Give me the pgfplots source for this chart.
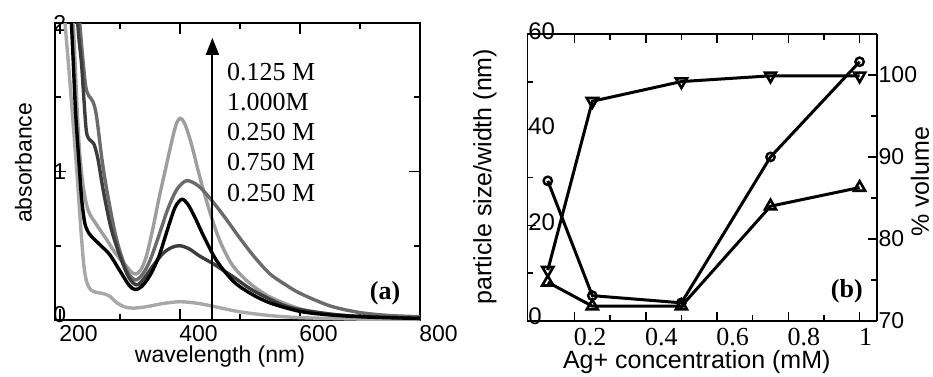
\documentclass[border=0pt]{standalone}
\usepackage{pgfplots}
\pgfplotsset{compat=1.18}
\usepackage{fontspec}
\setmainfont{Liberation Sans}
\newfontfamily\seriffont{Liberation Serif}
\usetikzlibrary{arrows.meta}

\definecolor{lgA}{gray}{0.66}
\definecolor{lgB}{gray}{0.62}
\definecolor{mgC}{gray}{0.42}
\definecolor{dgE}{gray}{0.24}

\begin{document}
\begin{tikzpicture}
\useasboundingbox (0,0) rectangle (466.5pt,188pt);
% ---------------- panel (a) ----------------
\begin{axis}[
  at={(27.5pt,28pt)}, anchor=south west,
  scale only axis, width=182.5pt, height=148.5pt,
  xmin=191.7, xmax=800, ymin=0, ymax=2,
  xtick={200,400,600,800}, minor xtick={300,500,700},
  xticklabels={200,400,600,800},
  ytick={0,1,2}, minor ytick={0.5,1.5},
  yticklabels={\raisebox{-1.1pt}[0pt][0pt]{0},1,2},
  tick align=inside, major tick length=5.3pt, minor tick length=2.8pt,
  axis line style={line width=0.8pt},
  every tick/.style={line width=0.8pt, black},
  xticklabel style={anchor=north west, inner sep=0pt, yshift=-2.6pt, xshift=-0.5pt, font=\fontsize{11.5}{12}\selectfont},
  yticklabel style={anchor=west, inner sep=0pt, xshift=-1pt, font=\fontsize{11.5}{12}\selectfont},
  xlabel={wavelength (nm)}, ylabel={absorbance},
  xlabel style={at={(axis description cs:0.452,-0.124)}, anchor=center, font=\fontsize{11.5}{12}\selectfont},
  ylabel style={at={(axis description cs:-0.0868,0.529)}, anchor=center, font=\fontsize{11.5}{12}\selectfont},
  every axis plot/.append style={line width=1.7pt, smooth, tension=0.5, no marks},
]
% A: lowest light gray
\addplot[lgA] coordinates {(204,2.25) (208,2.02) (215,1.68) (222,1.32) (229,0.95) (235,0.6) (240,0.36) (245,0.25) (252,0.2) (262,0.185) (272,0.178) (283,0.16) (295,0.115) (308,0.088) (322,0.08) (345,0.09) (370,0.11) (400,0.123) (430,0.112) (460,0.088) (500,0.055) (550,0.03) (600,0.016) (700,0.006) (800,0.002)};
% B: tall light gray
\addplot[lgB] coordinates {(217,2.5) (221,2.1) (225,1.75) (229,1.38) (233,1.12) (238,0.92) (244,0.78) (250,0.71) (258,0.66) (267,0.605) (278,0.54) (289,0.47) (300,0.41) (311,0.36) (320,0.32) (327,0.31) (335,0.34) (344,0.43) (355,0.62) (365,0.82) (375,1.0) (385,1.18) (393,1.31) (400,1.358) (407,1.33) (415,1.24) (422,1.14) (430,1.01) (439,0.875) (455,0.66) (470,0.5) (489,0.36) (517,0.245) (550,0.155) (600,0.075) (650,0.04) (700,0.022) (800,0.008)};
% C: broad mid gray
\addplot[mgC] coordinates {(226,2.5) (230,2.22) (233,2.0) (238,1.76) (243,1.57) (248,1.51) (255,1.47) (261,1.37) (270,1.08) (278,0.875) (290,0.62) (300,0.46) (313,0.32) (326,0.27) (338,0.31) (350,0.40) (365,0.57) (380,0.75) (395,0.88) (411,0.938) (430,0.905) (450,0.82) (475,0.69) (500,0.55) (525,0.42) (550,0.31) (575,0.24) (600,0.18) (650,0.095) (700,0.05) (750,0.03) (800,0.022)};
% E: dark gray low peak
\addplot[dgE] coordinates {(222,2.5) (227,2.15) (231,1.92) (236,1.72) (240,1.48) (244,1.27) (249,1.215) (256,1.19) (263,1.09) (272,0.875) (285,0.62) (300,0.43) (313,0.3) (323,0.245) (331,0.24) (342,0.29) (356,0.37) (372,0.45) (387,0.49) (400,0.5) (415,0.48) (433,0.43) (455,0.38) (470,0.34) (489,0.29) (517,0.21) (540,0.16) (572,0.10) (600,0.07) (650,0.04) (700,0.025) (800,0.012)};
% D: black
\addplot[black] coordinates {(214,2.5) (218,2.1) (222,1.75) (226,1.4) (231,1.1) (236,0.82) (241,0.66) (246,0.6) (252,0.565) (267,0.505) (283,0.44) (300,0.33) (315,0.235) (325,0.205) (336,0.225) (350,0.30) (365,0.43) (380,0.62) (392,0.76) (403,0.813) (413,0.78) (425,0.69) (440,0.56) (461,0.40) (489,0.26) (517,0.18) (550,0.115) (600,0.058) (650,0.034) (700,0.022) (750,0.015) (800,0.011)};
% arrow
\addplot[black, line width=1pt, sharp plot, -{Triangle[width=6.5pt,length=8.5pt]}] coordinates {(454,0) (454,1.9)};
\node[anchor=base west, inner sep=0pt, font=\seriffont\fontsize{13}{15}\selectfont] at (axis cs:477.8,1.611) {0.125 M};
\node[anchor=base west, inner sep=0pt, font=\seriffont\fontsize{13}{15}\selectfont] at (axis cs:477.8,1.409) {1.000M};
\node[anchor=base west, inner sep=0pt, font=\seriffont\fontsize{13}{15}\selectfont] at (axis cs:477.8,1.212) {0.250 M};
\node[anchor=base west, inner sep=0pt, font=\seriffont\fontsize{13}{15}\selectfont] at (axis cs:477.8,1.006) {0.750 M};
\node[anchor=base west, inner sep=0pt, font=\seriffont\fontsize{13}{15}\selectfont] at (axis cs:477.8,0.797) {0.250 M};
\node[font=\seriffont\bfseries\fontsize{13}{15}\selectfont] at (axis cs:741.7,0.18) {(a)};
\end{axis}
% ---------------- panel (b) ----------------
\begin{axis}[
  at={(263.65pt,27.5pt)}, anchor=south west,
  scale only axis, width=174.7pt, height=143.5pt,
  xmin=0.0675, xmax=1.048, ymin=0, ymax=60,
  axis y line*=left,
  xtick={0.2,0.4,0.6,0.8,1}, minor xtick={0.3,0.5,0.7,0.9},
  xticklabels={0.2,0.4,0.6,0.8,1},
  ytick={0,20,40,60}, minor ytick={10,30,50},
  yticklabels={\raisebox{1.5pt}{0},20,40,60},
  tick align=inside, major tick length=4.5pt, minor tick length=2.8pt,
  axis line style={line width=0.8pt},
  every tick/.style={line width=0.8pt, black},
  xticklabel style={anchor=north west, inner sep=0pt, yshift=-3.5pt, xshift=-0.5pt, font=\seriffont\fontsize{13}{13}\selectfont},
  yticklabel style={anchor=west, inner sep=0pt, xshift=0.3pt, yshift=1.5pt, font=\fontsize{12}{12}\selectfont},
  xlabel={Ag+ concentration (mM)}, ylabel={particle size/width (nm)},
  xlabel style={at={(axis description cs:0.485,-0.142)}, anchor=center, font=\fontsize{12.5}{13}\selectfont},
  ylabel style={at={(axis description cs:-0.121,0.503)}, anchor=center, font=\fontsize{12.5}{13}\selectfont},
  clip=false,
]
\addplot[black, line width=1.5pt, mark=o, mark size=2.1pt, mark options={solid, fill=white, line width=1.2pt}] coordinates {(0.125,29.3) (0.25,5.3) (0.5,3.8) (0.75,34.3) (1.0,54.2)};
\addplot[black, line width=1.5pt, mark=triangle, mark size=3.2pt, mark options={solid, fill=white, line width=1.3pt}] coordinates {(0.125,8.1) (0.25,3.1) (0.5,3.1) (0.75,24.0) (1.0,27.9)};
\node[font=\seriffont\bfseries\fontsize{13}{15}\selectfont] at (axis cs:0.964,6.3) {(b)};
\end{axis}
\begin{axis}[
  at={(263.65pt,27.5pt)}, anchor=south west,
  scale only axis, width=174.7pt, height=143.5pt,
  xmin=0.0675, xmax=1.048, ymin=70, ymax=105,
  axis y line*=right, axis x line=none,
  ytick={70,80,90,100}, minor ytick={75,85,95},
  yticklabels={70,80,90,100},
  tick align=inside, major tick length=4.5pt, minor tick length=2.8pt,
  axis line style={line width=0.8pt},
  every tick/.style={line width=0.8pt, black},
  yticklabel style={anchor=west, inner sep=0pt, xshift=0.8pt, font=\fontsize{11.5}{12}\selectfont},
  ylabel={\% volume},
  ylabel style={at={(axis description cs:1.124,0.485)}, anchor=center, font=\fontsize{12.5}{13}\selectfont},
  clip=false,
]
\addplot[black, line width=1.5pt, mark=triangle, mark size=3.2pt, mark options={solid, fill=white, line width=1.3pt, rotate=180}] coordinates {(0.125,76.2) (0.25,96.8) (0.5,99.2) (0.75,99.9) (1.0,99.9)};
\end{axis}
\end{tikzpicture}
\end{document}
